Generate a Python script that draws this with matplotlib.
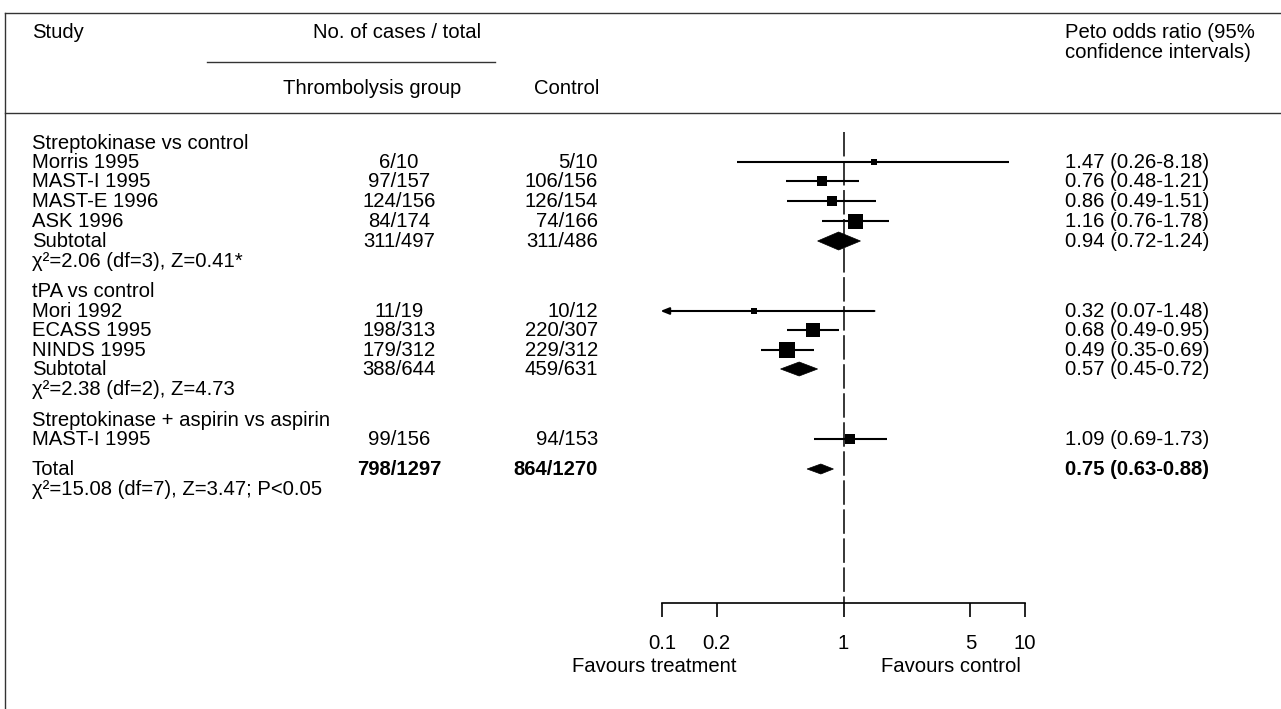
"""Forest plot: thrombolysis vs control, Peto odds ratios."""

import matplotlib
matplotlib.use("Agg")
import matplotlib.pyplot as plt
from matplotlib.patches import Polygon
from matplotlib.transforms import blended_transform_factory

plt.rcParams["font.family"] = ["Liberation Sans", "DejaVu Sans"]

# ---- data ----
group_titles = ["Streptokinase vs control", "tPA vs control",
                "Streptokinase + aspirin vs aspirin"]
trial_names = ["Morris 1995", "MAST-I 1995", "MAST-E 1996", "ASK 1996",
               "Mori 1992", "ECASS 1995", "NINDS 1995", "MAST-I 1995"]
treat_cases = ["6/10", "97/157", "124/156", "84/174",
               "11/19", "198/313", "179/312", "99/156"]
control_cases = ["5/10", "106/156", "126/154", "74/166",
                 "10/12", "220/307", "229/312", "94/153"]
trial_or = [1.47, 0.76, 0.86, 1.16, 0.32, 0.68, 0.49, 1.09]
trial_lo = [0.26, 0.48, 0.49, 0.76, 0.07, 0.49, 0.35, 0.69]
trial_hi = [8.18, 1.21, 1.51, 1.78, 1.48, 0.95, 0.69, 1.73]
trial_box = [6, 10, 10, 15, 6, 14, 16, 10]   # box side in px (weight)

summary_labels = ["Subtotal", "Subtotal", "Total"]
summary_treat = ["311/497", "388/644", "798/1297"]
summary_control = ["311/486", "459/631", "864/1270"]
summary_or = [0.94, 0.57, 0.75]
summary_lo = [0.72, 0.45, 0.63]
summary_hi = [1.24, 0.72, 0.88]
summary_h = [18, 14, 10]                     # diamond height in px
heterogeneity = ["χ²=2.06 (df=3), Z=0.41*",
                 "χ²=2.38 (df=2), Z=4.73",
                 "χ²=15.08 (df=7), Z=3.47; P<0.05"]

x_ticks = [0.1, 0.2, 1, 5, 10]
x_ticklabels = ["0.1", "0.2", "1", "5", "10"]

# ---- layout (pixel rows, top-down) ----
W, H = 1281, 709
title_y = [143, 291, 420]
trial_y = [162, 181, 201, 221, 311, 330, 350, 439]
summary_y = [241, 369, 469]
het_y = [261, 389, 489]
X_NAME, X_TREAT, X_CTRL, X_CI = 32, 399, 598, 1065
FS = 14.6

fig = plt.figure(figsize=(W / 100, H / 100), dpi=100)
ax = fig.add_axes([662 / W, 1 - 603 / H, 363 / W, (603 - 112) / H])
ax.set_xscale("log")
ax.set_xlim(0.1, 10)
ax.set_ylim(603, 112)
for s in ("top", "left", "right"):
    ax.spines[s].set_visible(False)
ax.spines["bottom"].set_linewidth(1.2)
ax.set_yticks([])
ax.set_xticks(x_ticks)
ax.set_xticklabels(x_ticklabels, fontsize=FS)
ax.minorticks_off()
ax.tick_params(axis="x", direction="out", length=10, width=1.2, pad=12)
ax.patch.set_alpha(0)

# reference line at 1
ax.plot([1, 1], [132, 603], color="black", lw=1.1, dashes=(16, 3), zorder=1)

# trials
for i in range(len(trial_names)):
    y = trial_y[i]
    if trial_lo[i] < 0.1:
        ax.annotate("", xy=(0.098, y), xytext=(trial_hi[i], y),
                    arrowprops=dict(arrowstyle="-|>,head_length=0.5,head_width=0.2",
                                    lw=1.5, color="black", shrinkA=0, shrinkB=0),
                    annotation_clip=False)
    else:
        ax.plot([trial_lo[i], trial_hi[i]], [y, y], color="black", lw=1.5,
                solid_capstyle="butt")
    ax.plot(trial_or[i], y, marker="s", color="black",
            markersize=trial_box[i] * 0.72, markeredgewidth=0, zorder=3)

# summary diamonds
for j in range(len(summary_or)):
    y, h = summary_y[j], summary_h[j] / 2
    ax.add_patch(Polygon([(summary_lo[j], y), (summary_or[j], y - h),
                          (summary_hi[j], y), (summary_or[j], y + h)],
                         closed=True, facecolor="black", edgecolor="black",
                         lw=0.5, zorder=3))

# ---- table text ----
tr = blended_transform_factory(fig.transFigure, ax.transData)


def put(x, y, s, ha="left", weight="normal"):
    ax.text(x / W, y, s, transform=tr, ha=ha, va="center", fontsize=FS,
            fontweight=weight, clip_on=False)


for g, t in enumerate(group_titles):
    put(X_NAME, title_y[g], t)
for i in range(len(trial_names)):
    y = trial_y[i]
    put(X_NAME, y, trial_names[i])
    put(X_TREAT, y, treat_cases[i], ha="center")
    put(X_CTRL, y, control_cases[i], ha="right")
    put(X_CI, y, f"{trial_or[i]:.2f} ({trial_lo[i]:.2f}-{trial_hi[i]:.2f})")
for j in range(len(summary_labels)):
    y = summary_y[j]
    w = "bold" if summary_labels[j] == "Total" else "normal"
    put(X_NAME, y, summary_labels[j])
    put(X_TREAT, y, summary_treat[j], ha="center", weight=w)
    put(X_CTRL, y, summary_control[j], ha="right", weight=w)
    put(X_CI, y, f"{summary_or[j]:.2f} ({summary_lo[j]:.2f}-{summary_hi[j]:.2f})",
        weight=w)
    put(X_NAME, het_y[j], heterogeneity[j])

# ---- header and frame ----
def ftext(x, y, s, ha="left"):
    fig.text(x / W, 1 - y / H, s, ha=ha, va="center", fontsize=FS)


ftext(X_NAME, 33, "Study")
ftext(397, 33, "No. of cases / total", ha="center")
ftext(372, 88, "Thrombolysis group", ha="center")
ftext(567, 88, "Control", ha="center")
ftext(X_CI, 33, "Peto odds ratio (95%")
ftext(X_CI, 52, "confidence intervals)")
ftext(654, 667, "Favours treatment", ha="center")
ftext(951, 667, "Favours control", ha="center")

frame = dict(color="#333333", lw=1.0, transform=fig.transFigure)
fig.add_artist(plt.Line2D([5 / W, 1], [1 - 13 / H] * 2, **frame))
fig.add_artist(plt.Line2D([5 / W, 1], [1 - 113 / H] * 2, **frame))
fig.add_artist(plt.Line2D([207 / W, 495 / W], [1 - 62 / H] * 2, **frame))
fig.add_artist(plt.Line2D([5 / W, 5 / W], [1 - 13 / H, 0], **frame))

fig.savefig("out.png", dpi=100)
